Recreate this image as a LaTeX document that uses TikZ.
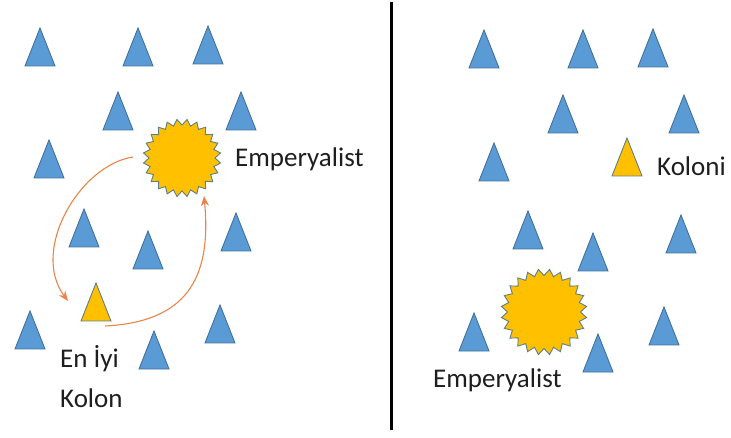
\documentclass[tikz,border=0pt]{standalone}
\usepackage{fontspec}
\setmainfont{Carlito}
\usetikzlibrary{shapes.geometric,arrows.meta}
\definecolor{triblue}{HTML}{5B9BD5}
\definecolor{triline}{HTML}{41719C}
\definecolor{gold}{HTML}{FFC000}
\definecolor{sunline}{HTML}{5F7F86}
\definecolor{arrorange}{HTML}{E9844A}
\definecolor{txt}{HTML}{1E1E1E}
\tikzset{
  tri/.pic={\path[draw=triline,fill=triblue,line width=0.9pt,line join=miter] (-15,0) -- (15,0) -- (0,-38) -- cycle;},
  ytri/.pic={\path[draw=sunline,fill=gold,line width=0.9pt,line join=miter] (-15,0) -- (15,0) -- (0,-38) -- cycle;},
  sun/.style={star,star points=24,star point ratio=0.85,draw=sunline,fill=gold,line width=0.9pt,inner sep=0pt,minimum size=#1},
  lbl/.style={anchor=base west,inner sep=0pt,text=txt,font=\fontsize{27}{32}\selectfont},
  arr/.style={draw=arrorange,line width=1.1pt,-{Stealth[length=10pt,width=8pt]}}
}
\begin{document}
\begin{tikzpicture}[x=1pt,y=-1pt]
\path[use as bounding box] (0,0) rectangle (731,438);
% left panel triangles (apex x, base y)
\foreach \x/\y in {40/66,138/66,208/64,118/130,241/130,49/178,84/247,148/269,236/251,30/349,154/369,220/343}
  \pic at (\x,\y) {tri};
\pic (yl) at (96,321) {ytri};
\node[sun=66pt] (sunL) at (182,158) {};
\node[lbl] (empL) at (235,167) {Emperyalist};
\node[lbl] (en1) at (60,367) {En İyi};
\node[lbl] (en2) at (60,407) {Kolon};
\coordinate (a1s) at (133,157);
\coordinate (a1e) at (68,301);
\coordinate (a2s) at (105,326);
\coordinate (a2e) at (204,196);
\draw[arr] (a1s) .. controls (80,165) and (30,250) .. (a1e);
\draw[arr] (a2s) .. controls (185,322) and (212,280) .. (a2e);
% divider
\draw[line width=3.5pt] (391.5,2) -- (391.5,430);
% right panel triangles
\foreach \x/\y in {484/68,583/68,653/67,563/133,684/133,494/181,528/249,593/271,681/253,474/351,598/372,664/345}
  \pic at (\x,\y) {tri};
\pic (yr) at (627,176) {ytri};
\node[lbl] (kol) at (657,176) {Koloni};
\node[sun=73pt] (sunR) at (544,312) {};
\node[lbl] (empR) at (433,387) {Emperyalist};
\end{tikzpicture}
\end{document}
